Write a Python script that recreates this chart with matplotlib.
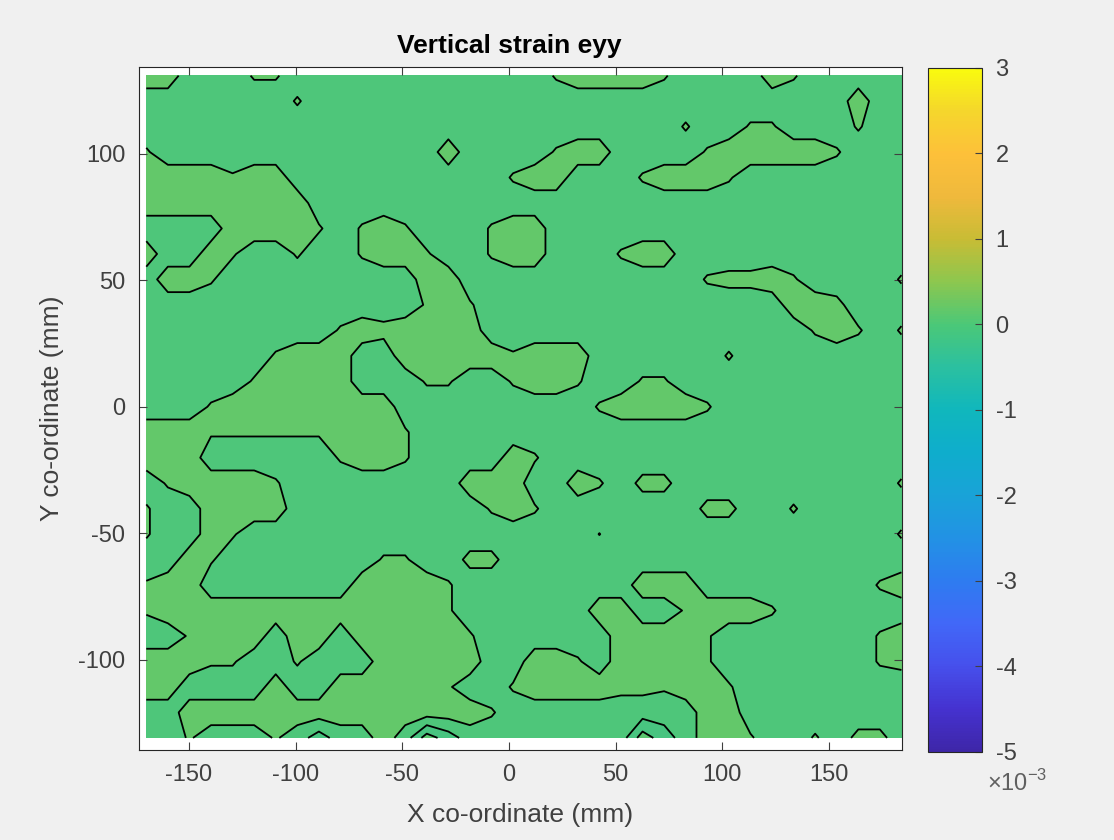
import numpy as np
import matplotlib
matplotlib.use("Agg")
import matplotlib.pyplot as plt
from matplotlib.colors import LinearSegmentedColormap, Normalize
from matplotlib.cm import ScalarMappable

plt.rcParams['font.family'] = ['Liberation Sans', 'DejaVu Sans']
plt.rcParams['mathtext.fontset'] = 'custom'
plt.rcParams['mathtext.rm'] = 'Liberation Sans'
plt.rcParams['axes.unicode_minus'] = False

# strain bands, one string per grid row (top to bottom)
# '.' main band, '#' upper band, 'o' / '+' small upper-band spots,
# '-' / '=' lower bands, ':' tiny spot
strain_rows = [
    "##...oo............o####o....#o.....",
    ".......o.........................#..",
    ".........................o..oo...o..",
    "o.............#....o##....o#####o...",
    "####o##..........o##...o###o........",
    "########............................",
    "....####o.o#o...o##.................",
    "#..#o..o..o##o..o##...o##...........",
    ".##o.........##...........o++#o....o",
    ".............o#o..............##+...",
    ".........o#+####...............o#o.o",
    "......o###..#####o###......o........",
    ".....o####...oo..o##o..oo...........",
    "...o########.........o####o.........",
    "###oooooo###o.......................",
    "###......o##o....#o.................",
    ".o####o........###..#o.++..........o",
    "o..####.........o#o.......++..o.....",
    "o..#o................:.............o",
    "..#o.......oo..++...................",
    "o##.......####o........###........o#",
    "o#############o......##..o###o......",
    "..o###.##.####oo......####o.......o#",
    "###oo..o...#####..##o.####o.......o+",
    "##....#..#####o..o####++o##o........",
    "..##############o.........##........",
    "..o...o.-..#.=-........=-.##o..o.++.",
]
band_value = {'.': 0.0, 'o': 0.6, '+': 0.75, '#': 1.0,
              '-': -1.0, '=': -2.0, ':': 0.52}

x_mm = np.linspace(-170, 184, 36)
y_mm = np.linspace(131, -131, 27)

band_levels = [-2.5, -1.5, -0.5, 0.5, 1.5]
band_colors = ['#5bc66f', '#48c480', '#4ec67a', '#63c86a']
line_levels = [-1.5, -0.5, 0.5]

x_ticks = [-150, -100, -50, 0, 50, 100, 150]
y_ticks = [-100, -50, 0, 50, 100]

cbar_ticks = [-5, -4, -3, -2, -1, 0, 1, 2, 3]
cbar_vals = [-5, -4.5, -4, -3.5, -3, -2.5, -2, -1.5, -1, -0.5, 0, 0.5, 1, 1.5, 2, 2.5, 3]
cbar_cols = ['#3e26a8', '#4532d0', '#4650ec', '#4168f8', '#2e7cf0', '#2292e4',
             '#19a3d8', '#0fadcc', '#10b7bd', '#2bc0a0', '#4bc878', '#8cc74f',
             '#c8bc35', '#efb93c', '#fdc03a', '#f5d62c', '#f9fb0e']

assert all(len(r) == len(x_mm) for r in strain_rows)
field = np.array([[band_value[c] for c in r] for r in strain_rows])

txt = '#404040'
fig = plt.figure(figsize=(11.14, 8.4), dpi=100, facecolor='#f0f0f0')
ax = fig.add_axes([0.1250, 0.1071, 0.6844, 0.8131])
ax.set_facecolor('white')

ax.contourf(x_mm, y_mm, field, levels=band_levels, colors=band_colors)
ax.contour(x_mm, y_mm, field, levels=line_levels, colors='k',
           linewidths=1.3, linestyles='solid')

ax.set_xlim(-173.3, 184.1)
ax.set_ylim(-135.8, 134.4)
ax.set_xticks(x_ticks)
ax.set_yticks(y_ticks)
ax.tick_params(direction='in', length=6, width=0.8, top=True, right=True,
               labelsize=17, colors=txt, pad=10)
for s in ax.spines.values():
    s.set_color('#262626')
    s.set_linewidth(0.8)

ax.set_title('Vertical strain eyy', fontsize=19, fontweight='bold',
             color='black', x=0.485, pad=10)
ax.set_xlabel('X co-ordinate (mm)', fontsize=19, color=txt, labelpad=12)
ax.set_ylabel('Y co-ordinate (mm)', fontsize=19, color=txt, labelpad=10)

cmap = LinearSegmentedColormap.from_list(
    'parula_like', [((v + 5) / 8, c) for v, c in zip(cbar_vals, cbar_cols)])
cax = fig.add_axes([0.8333, 0.1048, 0.0479, 0.8146])
cb = fig.colorbar(ScalarMappable(norm=Normalize(-5, 3), cmap=cmap), cax=cax,
                  ticks=cbar_ticks)
cb.ax.set_yticklabels([str(t) for t in cbar_ticks])
cb.ax.tick_params(direction='in', length=5, width=0.8, labelsize=17,
                  colors=txt, pad=10)
cb.outline.set_edgecolor('#262626')
cb.outline.set_linewidth(0.8)
fig.text(0.886, 0.058, r'$\times10^{-3}$', fontsize=17, color='#606060')

fig.savefig('out.png', dpi=100, facecolor=fig.get_facecolor())
